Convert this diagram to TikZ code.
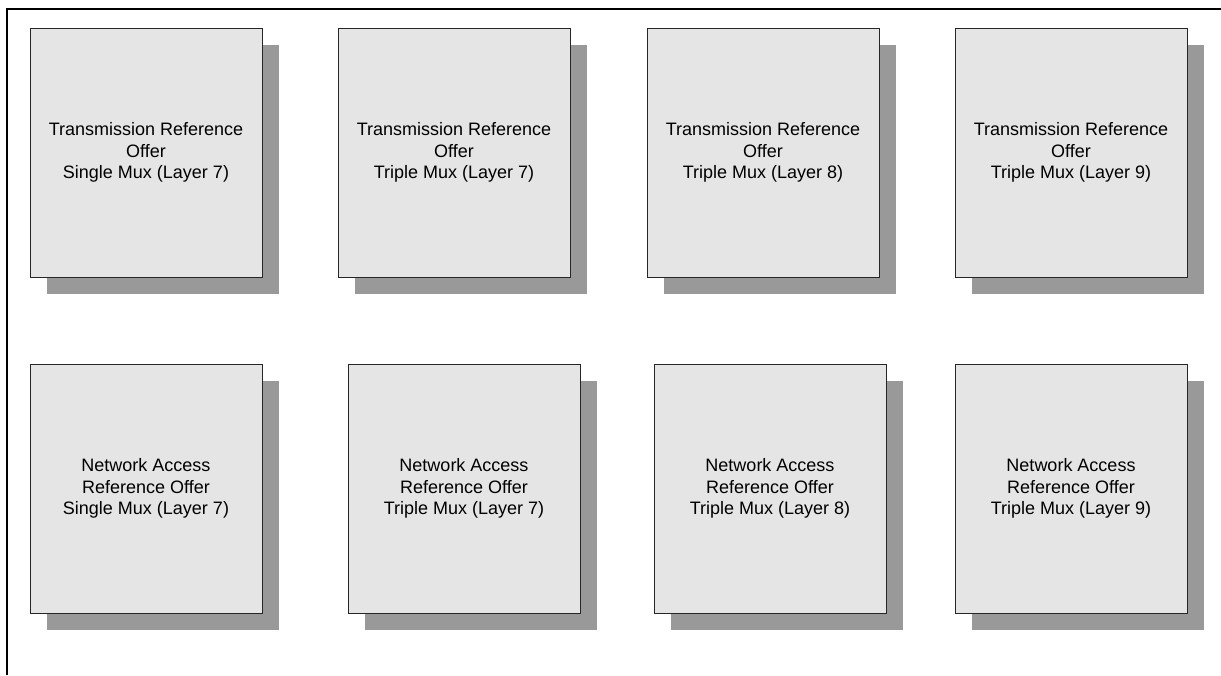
\documentclass[tikz,border=0pt]{standalone}
\usepackage{fontspec}
\setmainfont{Liberation Sans}
\usetikzlibrary{shadows}
\definecolor{boxgray}{HTML}{E5E5E5}
\definecolor{shadegray}{HTML}{999999}
\tikzstyle{offer}=[draw=black!85, line width=0.8pt, fill=boxgray,
  minimum width=232pt, minimum height=249pt, inner sep=0pt, align=center,
  font=\fontsize{18}{21.5}\selectfont,
  drop shadow={shadow xshift=17pt, shadow yshift=-17pt, fill=shadegray, opacity=1}]

\begin{document}
\begin{tikzpicture}[x=1pt, y=-1pt]
\useasboundingbox (0,0) rectangle (1221,675);
% Frame
    \draw[line width=2.6pt] (7,675) -- (7,9) -- (1221,9);
% Transmission offers
    \node[offer] (tro1) at (146,152.5) {Transmission Reference\\Offer\\Single Mux (Layer 7)};
    \node[offer] (tro2) at (454,152.5) {Transmission Reference\\Offer\\Triple Mux (Layer 7)};
    \node[offer] (tro3) at (763,152.5) {Transmission Reference\\Offer\\Triple Mux (Layer 8)};
    \node[offer] (tro4) at (1071,152.5) {Transmission Reference\\Offer\\Triple Mux (Layer 9)};
% Network access offers
    \node[offer] (nao1) at (146,488.5) {Network Access\\Reference Offer\\Single Mux (Layer 7)};
    \node[offer] (nao2) at (464,488.5) {Network Access\\Reference Offer\\Triple Mux (Layer 7)};
    \node[offer] (nao3) at (770,488.5) {Network Access\\Reference Offer\\Triple Mux (Layer 8)};
    \node[offer] (nao4) at (1071,488.5) {Network Access\\Reference Offer\\Triple Mux (Layer 9)};
\end{tikzpicture}
\end{document}
